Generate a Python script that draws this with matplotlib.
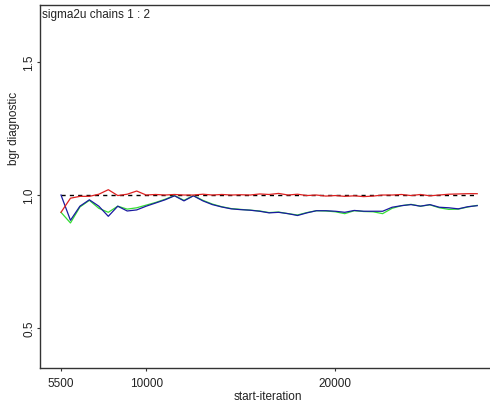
import matplotlib
matplotlib.use("Agg")
import matplotlib.pyplot as plt
import numpy as np

plt.rcParams['font.family'] = ['Liberation Sans', 'DejaVu Sans']

iterations = list(range(5500, 28000, 500))
blue = [1.000, 0.905, 0.958, 0.982, 0.958, 0.920, 0.958, 0.940, 0.944, 0.958,
        0.970, 0.982, 0.997, 0.978, 0.997, 0.978, 0.964, 0.955, 0.948, 0.945,
        0.943, 0.939, 0.933, 0.935, 0.930, 0.923, 0.933, 0.941, 0.941, 0.939,
        0.935, 0.942, 0.939, 0.939, 0.939, 0.954, 0.960, 0.964, 0.958, 0.964,
        0.954, 0.952, 0.948, 0.956, 0.960]
green = [0.935, 0.895, 0.955, 0.980, 0.950, 0.935, 0.958, 0.947, 0.952, 0.962,
         0.972, 0.984, 0.998, 0.980, 0.998, 0.980, 0.966, 0.956, 0.949, 0.946,
         0.943, 0.940, 0.934, 0.936, 0.930, 0.925, 0.934, 0.941, 0.940, 0.937,
         0.930, 0.941, 0.938, 0.937, 0.930, 0.950, 0.960, 0.965, 0.958, 0.963,
         0.952, 0.946, 0.947, 0.955, 0.961]
red = [0.935, 0.988, 0.995, 0.995, 1.003, 1.020, 0.998, 1.003, 1.015, 1.000,
       1.002, 1.000, 1.002, 1.000, 1.000, 1.003, 1.000, 1.002, 1.000, 1.001,
       1.000, 1.004, 1.002, 1.006, 1.000, 1.003, 0.998, 1.000, 0.996, 0.998,
       0.995, 0.997, 0.994, 0.996, 1.000, 1.000, 1.002, 0.998, 1.002, 0.997,
       1.000, 1.003, 1.004, 1.005, 1.005]

fig = plt.figure(figsize=(4.9, 4.1), dpi=100)
ax = fig.add_axes([40/490, 41/410, 455/490, 363/410])

ax.plot([iterations[0], iterations[-1]], [1.0, 1.0], color='black', lw=1.0, ls=(0, (3, 3)))
ax.plot(iterations, green, color='#33dd33', lw=0.9)
ax.plot(iterations, blue, color='#1a1aa0', lw=0.9)
ax.plot(iterations, red, color='#dd2222', lw=0.9)

ax.set_xlim(4390, 28440)
ax.set_ylim(0.35, 1.714)
ax.set_xticks([5500, 10000, 20000])
ax.set_xticklabels(['5500', '10000', '20000'])
ax.set_yticks([0.5, 1.0, 1.5])
ax.set_yticklabels(['0.5', '1.0', '1.5'], rotation=90, va='center')
ax.tick_params(axis='both', labelsize=8.5, length=2.5, width=0.8, colors='#333333', labelcolor='#222222')
ax.tick_params(axis='x', pad=4)
ax.tick_params(axis='y', pad=1)
for s in ax.spines.values():
    s.set_linewidth(1.0)
    s.set_color('#333333')

ax.set_xlabel('start-iteration', fontsize=8.5, labelpad=1, color='#222222')
ax.set_ylabel('bgr diagnostic', fontsize=8.5, color='#222222')
ax.yaxis.set_label_coords(-20/455, (369-128)/363)
ax.text(0.004, 0.993, 'sigma2u chains 1 : 2', transform=ax.transAxes, fontsize=8.5, va='top', ha='left', color='#222222')

fig.savefig('out.png', dpi=100)
